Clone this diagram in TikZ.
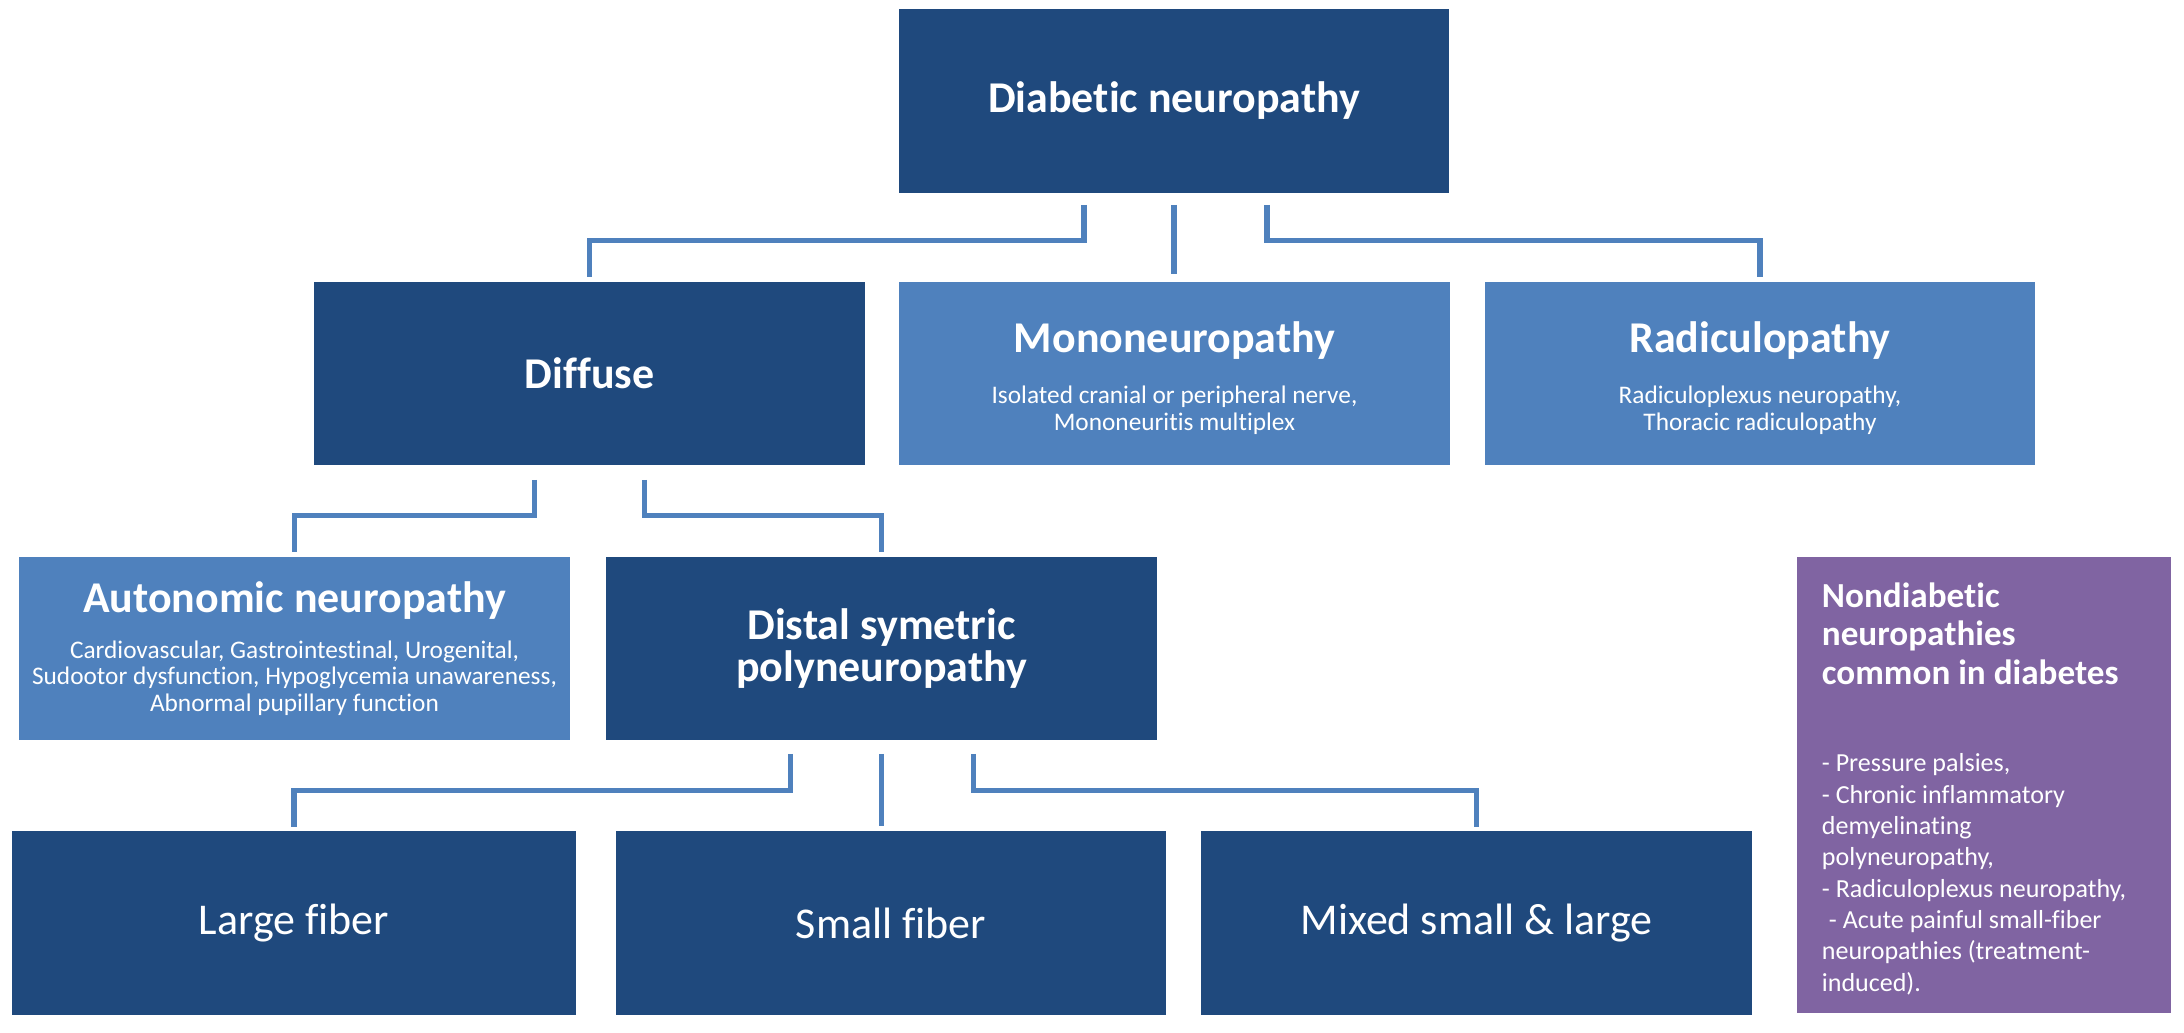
\documentclass[tikz,border=0pt]{standalone}
\usepackage{fontspec}
\setmainfont{Carlito}[Ligatures = NoCommon]
\usepackage{tikz}
\definecolor{dblue}{RGB}{31, 73, 125}
\definecolor{lblue}{RGB}{79, 129, 189}
\definecolor{mpurple}{RGB}{128, 100, 162}
\newcommand{\hdfont}{\fontsize{12.5}{13.5}\selectfont\bfseries}
\newcommand{\sbfont}{\fontsize{7.2}{7.6}\selectfont}
\newcommand{\ndfont}{\fontsize{10}{11}\selectfont\bfseries}
\newcommand{\ndbody}{\fontsize{7.4}{8.9}\selectfont}
\tikzset{box/.style = {fill = dblue, text = white, inner sep = 0, align = flush center,
    text width = 5.5cm, minimum width = 5.5cm, minimum height = 1.83cm}}
\tikzset{lbox/.style = {box, fill = lblue}}
\tikzset{link/.style = {draw = lblue, line width = 1.5pt}}

\begin{document}
\begin{tikzpicture}[x = 0.01cm, y = -0.01cm]
          \useasboundingbox (0, 0) rectangle (2184, 1033);

          \node [box, minimum height = 1.84cm] (diab) at (1174, 101) {\hdfont Diabetic neuropathy};
          \node [box] (diffuse) at (589.5, 373.5) {\hdfont Diffuse};
          \node [lbox] (mono) at (1174.5, 373.5) {{\hdfont Mononeuropathy\par}\vspace{7pt}
            {\sbfont Isolated cranial or peripheral nerve,\\ Mononeuritis multiplex\par}\vspace{-2.4pt}};
          \node [lbox] (radic) at (1760, 373.5) {{\hdfont Radiculopathy\par}\vspace{7pt}
            {\sbfont Radiculoplexus neuropathy,\\ Thoracic radiculopathy\par}\vspace{-2.4pt}};
          \node [lbox] (auton) at (294.5, 648.5) {{\hdfont Autonomic neuropathy\par}\vspace{5.5pt}
            {\sbfont Cardiovascular, Gastrointestinal, Urogenital,\\ Sudootor dysfunction, Hypoglycemia unawareness,\\ Abnormal pupillary function\par}};
          \node [box] (distal) at (881.5, 648.5) {\hdfont Distal symetric\\ polyneuropathy};

          \node [box, text width = 5.64cm, minimum width = 5.64cm] (large) at (294, 923) {\hdfont\mdseries Large fiber};
          \node [box] (small) at (891, 923) {\hdfont\mdseries Small fiber};
          \node [box] (mixed) at (1476.5, 923) {\hdfont\mdseries Mixed small \& large};

          \node [box, fill = mpurple, align = flush left, text width = 3.24cm, inner xsep = 0.25cm,
            minimum width = 3.74cm, minimum height = 4.56cm] (nondiab) at (1984, 785)
            {{\ndfont Nondiabetic\\ neuropathies\\ common in diabetes\par}\vspace{16pt}
            {\ndbody - Pressure palsies,\\ - Chronic inflammatory\\ demyelinating\\ polyneuropathy,\\
            - Radiculoplexus neuropathy,\\ \hspace*{2pt}- Acute painful small-fiber\\ neuropathies (treatment-\\ induced).\par}\vspace{-2pt}};

          \draw [link] ([xshift = -0.90cm, yshift = -0.11cm] diab.south) -- ++(0, -0.36cm) -| ([yshift = 0.04cm] diffuse.north);
          \draw [link] ([yshift = -0.11cm] diab.south) -- ([yshift = 0.07cm] diab.south |- mono.north);
          \draw [link] ([xshift = 0.93cm, yshift = -0.11cm] diab.south) -- ++(0, -0.36cm) -| ([yshift = 0.04cm] radic.north);

          \draw [link] ([xshift = -0.55cm, yshift = -0.14cm] diffuse.south) -- ++(0, -0.36cm) -| ([yshift = 0.04cm] auton.north);
          \draw [link] ([xshift = 0.55cm, yshift = -0.14cm] diffuse.south) -- ++(0, -0.36cm) -| ([yshift = 0.04cm] distal.north);

          \draw [link] ([xshift = -0.91cm, yshift = -0.13cm] distal.south) -- ++(0, -0.37cm) -| ([yshift = 0.04cm] large.north);
          \draw [link] ([yshift = -0.13cm] distal.south) -- ([yshift = 0.05cm] distal.south |- small.north);
          \draw [link] ([xshift = 0.92cm, yshift = -0.13cm] distal.south) -- ++(0, -0.37cm) -| ([yshift = 0.04cm] mixed.north);
        \end{tikzpicture}
\end{document}
